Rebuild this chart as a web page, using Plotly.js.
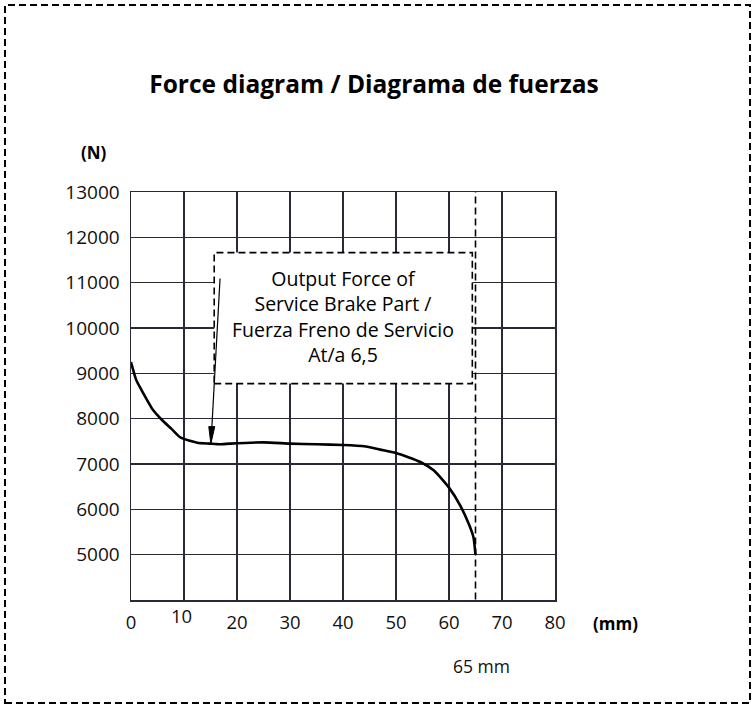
<!DOCTYPE html>
<html>
<head>
<meta charset="utf-8">
<script src="https://cdn.plot.ly/plotly-3.0.1.min.js"></script>
<style>
html,body{margin:0;padding:0;background:#fff;}
#chart{width:752px;height:706px;}
</style>
</head>
<body>
<div id="chart"></div>
<script>
// ---- data ----
const travelMm = [0, 1, 1.9, 4.2, 5.9, 7.6, 9.4, 12.5, 14.9, 16.8, 18.7, 25, 30, 35, 40, 44, 47, 50, 54.6, 57.1, 60, 62.1, 63.7, 64.6, 65];
const forceN   = [9250, 8850, 8650, 8185, 7965, 7780, 7580, 7470, 7450, 7435, 7450, 7478, 7450, 7435, 7419, 7390, 7317, 7242, 7044, 6861, 6479, 6088, 5685, 5390, 5000];
const xTickVals = [0, 10, 20, 30, 40, 50, 60, 70, 80];
const xTickText = ['0', '', '20', '30', '40', '50', '60', '70', '80'];
const yTickVals = [5000, 6000, 7000, 8000, 9000, 10000, 11000, 12000, 13000];
const yTickText = ['5000', '6000', '7000', '8000', '9000', '10000', '11000', '12000', '13000'];
const strokeEnd = 65;
const titleText = 'Force diagram / Diagrama de fuerzas';
const boxLines = ['Output Force of', 'Service Brake Part /', 'Fuerza Freno de Servicio', 'At/a 6,5'];

const F = 'Open Sans, Noto Sans, sans-serif';
const grid = '#2a2a36';

const trace = {
  x: travelMm, y: forceN, type: 'scatter', mode: 'lines',
  line: {color: '#000', width: 2.6, shape: 'spline', smoothing: 0.6},
  hoverinfo: 'skip', showlegend: false
};

const annotations = [
  {text: boxLines.join('<br>'), xref: 'x', yref: 'y', x: 40.0, y: 10260, xanchor: 'center', yanchor: 'middle',
   align: 'center', showarrow: false, font: {family: F, size: 19.5, color: '#000'}},
  {text: '10', xref: 'x', yref: 'paper', x: 10, xshift: -3, y: (600 - 615.7) / 408, yanchor: 'middle',
   showarrow: false, font: {family: F, size: 18.5, color: '#111'}},
  {text: '<b>(N)</b>', xref: 'paper', yref: 'paper', x: (94 - 131) / 424, y: (600 - 153) / 408,
   xanchor: 'center', yanchor: 'middle', showarrow: false, font: {family: F, size: 17, color: '#000'}},
  {text: '<b>(mm)</b>', xref: 'paper', yref: 'paper', x: (615 - 131) / 424, y: (600 - 623.3) / 408,
   xanchor: 'center', yanchor: 'middle', showarrow: false, font: {family: F, size: 17, color: '#000'}},
  {text: '65 mm', xref: 'x', yref: 'paper', x: strokeEnd, xshift: 6, y: (600 - 665.5) / 408,
   xanchor: 'center', yanchor: 'middle', showarrow: false, font: {family: F, size: 17.5, color: '#111'}}
];

const layout = {
  width: 752, height: 706,
  margin: {l: 131, r: 197, t: 192, b: 106},
  paper_bgcolor: '#fff', plot_bgcolor: '#fff',
  showlegend: false,
  title: {
    text: '<b>' + titleText + '</b>',
    font: {family: F, size: 24.5, color: '#000'},
    x: 374 / 752, xanchor: 'center', xref: 'container',
    y: 1 - 84 / 706, yanchor: 'middle', yref: 'container'
  },
  xaxis: {
    range: [0, 80], tickmode: 'array', tickvals: xTickVals, ticktext: xTickText,
    showgrid: true, gridcolor: grid, gridwidth: 1.2,
    showline: true, mirror: true, linecolor: grid, linewidth: 1.5,
    zeroline: false, ticks: '', ticklabelstandoff: 5,
    tickfont: {family: F, size: 18.5, color: '#111'}, fixedrange: true
  },
  yaxis: {
    range: [4000, 13000], tickmode: 'array', tickvals: yTickVals, ticktext: yTickText,
    showgrid: true, gridcolor: grid, gridwidth: 1.2,
    showline: true, mirror: true, linecolor: grid, linewidth: 1.5,
    zeroline: false, ticks: '', ticklabelstandoff: 6,
    tickfont: {family: F, size: 19, color: '#111'}, fixedrange: true
  },
  shapes: [
    {type: 'rect', xref: 'paper', yref: 'paper', x0: -0.2972, x1: 1.4599, y0: -0.2525, y1: 1.4583,
     line: {color: '#000', width: 2, dash: '7px,4px'}, fillcolor: 'rgba(0,0,0,0)', layer: 'above'},
    {type: 'line', xref: 'x', yref: 'y', x0: strokeEnd, x1: strokeEnd, y0: 2800, y1: 13080,
     line: {color: '#000', width: 1.6, dash: '7px,4px'}, layer: 'above'},
    {type: 'rect', xref: 'x', yref: 'y', x0: 15.7, x1: 64.4, y0: 8773, y1: 11663,
     line: {color: '#000', width: 1.6, dash: '7px,4px'}, fillcolor: '#fff', layer: 'above'},
    {type: 'line', xref: 'x', yref: 'y', x0: 16.8, y0: 11090, x1: 15.1, y1: 7480,
     line: {color: '#000', width: 1.2}, layer: 'above'},
    {type: 'path', xref: 'x', yref: 'y', xsizemode: 'pixel', ysizemode: 'pixel',
     xanchor: 15.07, yanchor: 7450, path: 'M0,0 L3.9,17 L-2.1,17 Z',
     fillcolor: '#000', line: {color: '#000', width: 1}, layer: 'above'}
  ],
  annotations: annotations
};

Plotly.newPlot('chart', [trace], layout, {staticPlot: true, displayModeBar: false});
</script>
</body>
</html>
